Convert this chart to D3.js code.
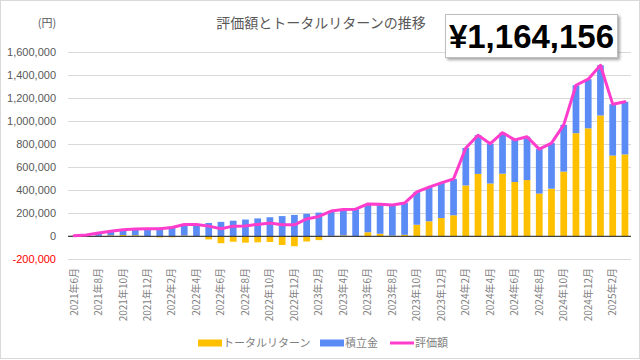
<!DOCTYPE html>
<html>
<head>
<meta charset="utf-8">
<script src="https://cdn.jsdelivr.net/npm/d3@7/dist/d3.min.js"></script>
<style>
  html, body { margin: 0; padding: 0; background: #fff; }
  svg { display: block; }
</style>
</head>
<body>
<svg id="chart" width="640" height="360"></svg>
<script>
const months = [
  "2021年6月","2021年7月","2021年8月","2021年9月","2021年10月","2021年11月","2021年12月",
  "2022年1月","2022年2月","2022年3月","2022年4月","2022年5月","2022年6月","2022年7月","2022年8月","2022年9月","2022年10月","2022年11月","2022年12月",
  "2023年1月","2023年2月","2023年3月","2023年4月","2023年5月","2023年6月","2023年7月","2023年8月","2023年9月","2023年10月","2023年11月","2023年12月",
  "2024年1月","2024年2月","2024年3月","2024年4月","2024年5月","2024年6月","2024年7月","2024年8月","2024年9月","2024年10月","2024年11月","2024年12月",
  "2025年1月","2025年2月","2025年3月"
];
// 積立金 (contributions)
const contributions = [
  5000, 15000, 25000, 35000, 45000, 55000, 65000,
  75000, 85000, 95000, 105000, 115000, 125000, 135000, 145000, 155000, 165000, 175000, 185000,
  195000, 205000, 215000, 225000, 235000, 245000, 255000, 265000, 275000, 285000, 295000, 305000,
  315000, 325000, 335000, 345000, 355000, 365000, 375000, 385000, 395000, 405000, 415000, 425000,
  435000, 445000, 455000
];
// トータルリターン (total return)
const returns = [
  0, -3000, 4000, 8000, 11000, 9000, 0,
  -10000, -9000, 7000, -2000, -27000, -60000, -47000, -55000, -52000, -49000, -75000, -86000,
  -45000, -33000, 4000, 8000, 0, 35000, 22000, 6000, 13000, 100000, 130000, 158000,
  182000, 440000, 540000, 457000, 542000, 470000, 487000, 370000, 412000, 560000, 893000, 935000,
  1046000, 699000, 709156
];
const yTicks = [-200000, 0, 200000, 400000, 600000, 800000, 1000000, 1200000, 1400000, 1600000];
const seriesNames = ["トータルリターン", "積立金", "評価額"];
const title = "評価額とトータルリターンの推移";
const unitLabel = "(円)";

const colors = { ret: "#ffc000", contrib: "#5b8cf6", total: "#ff3dcc" };

const data = months.map((m, i) => ({ month: m, ret: returns[i], contrib: contributions[i], total: returns[i] + contributions[i] }));
const latest = data[data.length - 1].total;

const svg = d3.select("#chart");
const W = 640, H = 360;
const plot = { left: 68, right: 631, top: 51.5, bottom: 259.4 };

const x = d3.scaleBand().domain(months).range([plot.left, plot.right]).paddingInner(0.45).paddingOuter(0.22);
const y = d3.scaleLinear().domain([-200000, 1600000]).range([plot.bottom, plot.top]);

const loc = d3.formatLocale({ decimal: ".", thousands: ",", grouping: [3], currency: ["", ""], minus: "-" });
const fmt = loc.format(",");

// border lines
svg.append("rect").attr("x", 0.5).attr("y", 0.5).attr("width", W - 1).attr("height", H - 2)
  .attr("fill", "none").attr("stroke", "#d9d9d9").attr("stroke-width", 1);

// gridlines
svg.append("g").selectAll("line").data(yTicks).join("line")
  .attr("x1", plot.left).attr("x2", plot.right)
  .attr("y1", d => Math.round(y(d)) + 0.5).attr("y2", d => Math.round(y(d)) + 0.5)
  .attr("stroke", "#d9d9d9").attr("stroke-width", 1);

// y axis labels
const yAxis = d3.axisLeft(y).tickValues(yTicks).tickFormat(fmt).tickSize(0).tickPadding(0);
const gy = svg.append("g").attr("transform", `translate(56,0)`).call(yAxis);
gy.select(".domain").remove();
gy.selectAll("text")
  .attr("font-family", "'Liberation Sans', Arial, sans-serif")
  .attr("font-size", 11)
  .attr("fill", d => d < 0 ? "#ff0000" : "#595959");

// stacked bars
const stack = d3.stack().keys(["ret", "contrib"]).offset(d3.stackOffsetDiverging);
const layers = stack(data);
svg.append("g").selectAll("g").data(layers).join("g")
  .attr("fill", d => colors[d.key])
  .selectAll("rect").data(d => d).join("rect")
  .attr("x", d => x(d.data.month))
  .attr("width", x.bandwidth())
  .attr("y", d => y(Math.max(d[0], d[1])))
  .attr("height", d => Math.abs(y(d[0]) - y(d[1])));

// zero line
svg.append("line").attr("x1", plot.left).attr("x2", plot.right)
  .attr("y1", y(0)).attr("y2", y(0)).attr("stroke", "#404040").attr("stroke-width", 1.2);

// total line
const line = d3.line().x(d => x(d.month) + x.bandwidth() / 2).y(d => y(d.total));
svg.append("path").datum(data).attr("d", line)
  .attr("fill", "none").attr("stroke", colors.total).attr("stroke-width", 3)
  .attr("stroke-linejoin", "round").attr("stroke-linecap", "round");

// x axis labels
const xAxis = d3.axisBottom(x).tickValues(months.filter((m, i) => i % 2 === 0)).tickSize(0).tickPadding(0);
const gx = svg.append("g").attr("transform", `translate(0,268)`).call(xAxis);
gx.select(".domain").remove();
gx.selectAll("text")
  .attr("transform", "rotate(-90)")
  .attr("text-anchor", "end")
  .attr("x", 0).attr("y", 0).attr("dy", "0.35em")
  .attr("font-family", "'Noto Sans CJK JP', 'Noto Sans', sans-serif")
  .attr("font-size", 10)
  .attr("fill", "#7f7f7f");

// title
svg.append("text").attr("x", 321).attr("y", 28).attr("text-anchor", "middle")
  .attr("font-family", "'Noto Sans CJK JP', sans-serif").attr("font-size", 14).attr("fill", "#595959")
  .text(title);
svg.append("text").attr("x", 47).attr("y", 27).attr("text-anchor", "middle")
  .attr("font-family", "'Noto Sans CJK JP', sans-serif").attr("font-size", 11).attr("fill", "#595959")
  .text(unitLabel);

// value box
const defs = svg.append("defs");
const f = defs.append("filter").attr("id", "shadow").attr("x", "-10%").attr("y", "-10%").attr("width", "130%").attr("height", "140%");
f.append("feDropShadow").attr("dx", 2).attr("dy", 2).attr("stdDeviation", 1.5).attr("flood-color", "#000").attr("flood-opacity", 0.35);
svg.append("rect").attr("x", 445.5).attr("y", 14.5).attr("width", 172).attr("height", 43)
  .attr("fill", "#fff").attr("stroke", "#bfbfbf").attr("filter", "url(#shadow)");
svg.append("text").attr("x", 531.5).attr("y", 48).attr("text-anchor", "middle")
  .attr("font-family", "'Liberation Sans', Arial, sans-serif").attr("font-weight", "bold")
  .attr("font-size", 33).attr("fill", "#000")
  .text("¥" + loc.format(",")(latest));

// legend
const legendItems = [
  { name: seriesNames[0], color: colors.ret, type: "bar", x: 198 },
  { name: seriesNames[1], color: colors.contrib, type: "bar", x: 320 },
  { name: seriesNames[2], color: colors.total, type: "line", x: 390 }
];
const lg = svg.append("g").selectAll("g").data(legendItems).join("g")
  .attr("transform", d => `translate(${d.x},343)`);
lg.append("rect").attr("x", 0).attr("y", d => d.type === "bar" ? -3.5 : -1.5)
  .attr("width", 24).attr("height", d => d.type === "bar" ? 7 : 3).attr("fill", d => d.color);
lg.append("text").attr("x", 25).attr("y", 0).attr("dy", "0.35em")
  .attr("font-family", "'Noto Sans CJK JP', sans-serif").attr("font-size", 11).attr("fill", "#7f7f7f")
  .text(d => d.name);
</script>
</body>
</html>
